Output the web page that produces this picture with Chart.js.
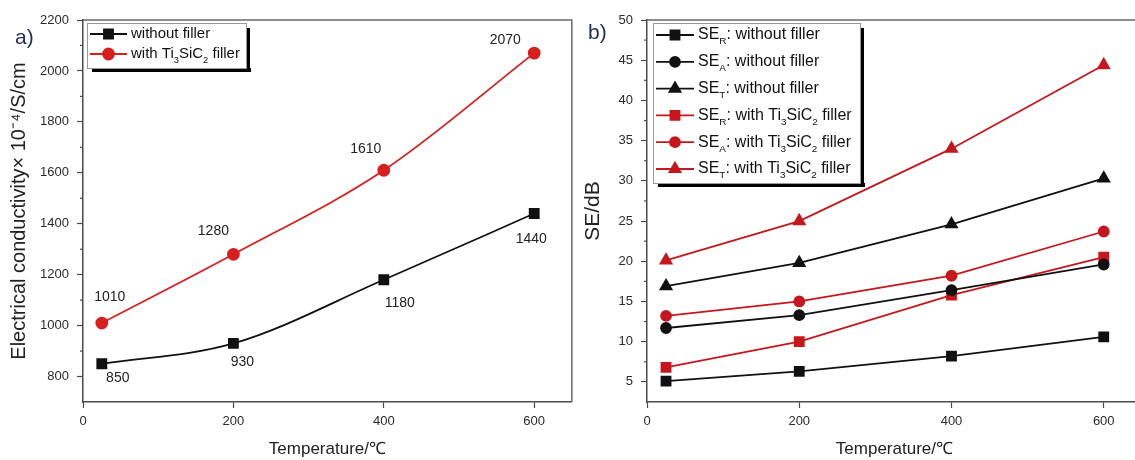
<!DOCTYPE html>
<html>
<head>
<meta charset="utf-8">
<script src="https://cdn.jsdelivr.net/npm/chart.js@4.4.1/dist/chart.umd.min.js"></script>
<style>
    body { margin: 0; background: #fff; width: 1135px; height: 460px; overflow: hidden; position: relative; font-family: "Liberation Sans", Arial, sans-serif; }
    #wrapA { position: absolute; left: 0; top: 0; width: 580px; height: 460px; }
    #wrapB { position: absolute; left: 580px; top: 0; width: 570px; height: 460px; }
    .tag { position: absolute; font-size: 21px; color: #1f2f52; }
</style>
</head>
<body>
<div id="wrapA"><canvas id="chartA"></canvas></div>
<div id="wrapB"><canvas id="chartB"></canvas></div>
<div class="tag" style="left:15px;top:25px">a)</div>
<div class="tag" style="left:588px;top:20px">b)</div>

<script>
// data
var temperature = [25, 200, 400, 600];
var tempTicks = [0, 200, 400, 600];

// a) electrical conductivity, x 10^-4 S/cm
var condWithout = [850, 930, 1180, 1440];
var condWith = [1010, 1280, 1610, 2070];
var condTicks = [800, 1000, 1200, 1400, 1600, 1800, 2000, 2200];
var condMinor = [900, 1100, 1300, 1500, 1700, 1900, 2100];

// b) shielding effectiveness, dB
var seRWithout = [5.1, 6.3, 8.2, 10.6];
var seAWithout = [11.7, 13.3, 16.4, 19.6];
var seTWithout = [16.9, 19.8, 24.6, 30.3];
var seRWith = [6.8, 10.0, 15.8, 20.5];
var seAWith = [13.2, 15.0, 18.2, 23.7];
var seTWith = [20.1, 25.0, 34.0, 44.4];
var seTicks = [5, 10, 15, 20, 25, 30, 35, 40, 45, 50];
var seMinor = [7.5, 12.5, 17.5, 22.5, 27.5, 32.5, 37.5, 42.5, 47.5];

var RED_A = '#d81e1e';
var RED_B = '#c5171d';
var BLACK = '#111';
var AXIS = '#4a4a4a';
var FONT = '"Liberation Sans", Arial, sans-serif';

function pts(ys) {
    return temperature.map(function (t, i) { return { x: t, y: ys[i] }; });
}

function drawRich(ctx, parts, x, y, size) {
    parts.forEach(function (p) {
        var sub = p[1] === 'sub';
        ctx.font = (sub ? size * 0.62 : size) + 'px ' + FONT;
        ctx.fillText(p[0], x, y + (sub ? size * 0.42 : 0));
        x += ctx.measureText(p[0]).width;
    });
}

// frame, minor ticks, value labels and the boxed legend
var decor = {
    id: 'decor',
    afterDraw: function (chart, args, opts) {
        var ctx = chart.ctx;
        var a = chart.chartArea;
        var ys = chart.scales.y;
        ctx.save();

        ctx.strokeStyle = '#6a6a6a';
        ctx.lineWidth = 1.5;
        ctx.beginPath();
        ctx.moveTo(a.left, a.top);
        ctx.lineTo(a.right, a.top);
        ctx.lineTo(a.right, a.bottom);
        ctx.stroke();

        ctx.strokeStyle = AXIS;
        ctx.lineWidth = 1.2;
        opts.minor.forEach(function (v) {
            var py = ys.getPixelForValue(v);
            ctx.beginPath();
            ctx.moveTo(a.left - 3, py);
            ctx.lineTo(a.left, py);
            ctx.stroke();
        });

        if (opts.offsets) {
            ctx.fillStyle = '#222';
            ctx.font = '14px ' + FONT;
            ctx.textAlign = 'center';
            ctx.textBaseline = 'middle';
            chart.data.datasets.forEach(function (ds, i) {
                var meta = chart.getDatasetMeta(i);
                meta.data.forEach(function (el, j) {
                    var off = opts.offsets[i][j];
                    ctx.fillText(String(ds.data[j].y), el.x + off[0], el.y + off[1]);
                });
            });
        }

        var L = opts.legend;
        ctx.fillStyle = '#000';
        ctx.fillRect(L.x + 5, L.y + L.h, L.w, 4);
        ctx.fillRect(L.x + L.w, L.y + 5, 4, L.h - 1);
        ctx.fillStyle = '#fff';
        ctx.fillRect(L.x, L.y, L.w, L.h);
        ctx.strokeStyle = '#999';
        ctx.lineWidth = 1;
        ctx.strokeRect(L.x + 0.5, L.y + 0.5, L.w, L.h);
        ctx.textAlign = 'left';
        ctx.textBaseline = 'middle';
        L.items.forEach(function (parts, i) {
            var ds = chart.data.datasets[i];
            var cy = L.y + L.first + i * L.step;
            ctx.strokeStyle = ds.borderColor;
            ctx.lineWidth = 1.8;
            ctx.beginPath();
            ctx.moveTo(L.x + 3, cy);
            ctx.lineTo(L.x + 3 + L.line, cy);
            ctx.stroke();
            ctx.fillStyle = ds.pointBackgroundColor;
            ctx.strokeStyle = ds.pointBorderColor;
            Chart.helpers.drawPoint(ctx, {
                pointStyle: ds.pointStyle, radius: ds.pointRadius, rotation: 0, borderWidth: 1
            }, L.x + 3 + L.line / 2, cy);
            ctx.fillStyle = '#111';
            drawRich(ctx, parts, L.x + L.line + 7, cy, L.size);
        });
        ctx.restore();
    }
};

function axes(xMax, yMin, yMax, majors, yTitle, yWidth, yTitleSize, yPad) {
    var tickFont = { family: FONT, size: 13 };
    return {
        x: {
            type: 'linear', min: 0, max: xMax,
            afterBuildTicks: function (s) { s.ticks = tempTicks.map(function (v) { return { value: v }; }); },
            afterFit: function (s) { s.height = 58; },
            border: { display: true, color: AXIS, width: 1.5 },
            grid: { drawOnChartArea: false, tickLength: 6, tickColor: AXIS, tickWidth: 1.2 },
            ticks: { color: '#2a2a2a', font: tickFont, padding: 6, maxRotation: 0, callback: function (v) { return String(v); } },
            title: { display: true, text: 'Temperature/\u2103', color: '#222', font: { family: FONT, size: 17 }, padding: { top: 0, bottom: 0 } }
        },
        y: {
            type: 'linear', min: yMin, max: yMax,
            afterBuildTicks: function (s) { s.ticks = majors.map(function (v) { return { value: v }; }); },
            afterFit: function (s) { s.width = yWidth; },
            border: { display: true, color: AXIS, width: 1.5 },
            grid: { drawOnChartArea: false, tickLength: 6, tickColor: AXIS, tickWidth: 1.2 },
            ticks: { color: '#2a2a2a', font: tickFont, padding: 8, callback: function (v) { return String(v); } },
            title: { display: true, text: yTitle, color: '#222', font: { family: FONT, size: yTitleSize }, padding: { top: yPad, bottom: 0 } }
        }
    };
}

function series(label, ys, color, style, radius, mode) {
    return {
        label: label,
        data: pts(ys),
        borderColor: color,
        backgroundColor: color,
        pointBackgroundColor: color,
        pointBorderColor: color,
        pointStyle: style,
        pointRadius: radius,
        pointHoverRadius: radius,
        borderWidth: 1.8,
        cubicInterpolationMode: mode,
        tension: 0
    };
}

new Chart(document.getElementById('chartA'), {
    type: 'line',
    data: {
        datasets: [
            series('without filler', condWithout, BLACK, 'rect', 6.4, 'monotone'),
            series('with Ti3SiC2 filler', condWith, RED_A, 'circle', 5.5, 'monotone')
        ]
    },
    options: {
        responsive: true,
        maintainAspectRatio: false,
        animation: false,
        layout: { padding: { left: 0, right: 8, top: 20, bottom: 0 } },
        scales: axes(650, 700, 2200, condTicks, 'Electrical conductivity\u00d7 10\u207b\u2074/S/cm', 83, 20, 7),
        plugins: {
            legend: { display: false },
            tooltip: { enabled: false },
            decor: {
                minor: condMinor,
                offsets: [
                    [[16, 14], [9, 19], [16, 23], [-3, 26]],
                    [[8, -26], [-20, -23], [-18, -21], [-29, -13]]
                ],
                legend: {
                    x: 87, y: 23, w: 159, h: 45, first: 11, step: 20, line: 37, size: 15,
                    items: [
                        [['without filler', '']],
                        [['with Ti', ''], ['3', 'sub'], ['SiC', ''], ['2', 'sub'], [' filler', '']]
                    ]
                }
            }
        }
    },
    plugins: [decor]
});

new Chart(document.getElementById('chartB'), {
    type: 'line',
    data: {
        datasets: [
            series('SE_R without filler', seRWithout, BLACK, 'rect', 6.4, 'default'),
            series('SE_A without filler', seAWithout, BLACK, 'circle', 5, 'default'),
            series('SE_T without filler', seTWithout, BLACK, 'triangle', 6.4, 'default'),
            series('SE_R with Ti3SiC2 filler', seRWith, RED_B, 'rect', 6.4, 'default'),
            series('SE_A with Ti3SiC2 filler', seAWith, RED_B, 'circle', 5, 'default'),
            series('SE_T with Ti3SiC2 filler', seTWith, RED_B, 'triangle', 6.4, 'default')
        ]
    },
    options: {
        responsive: true,
        maintainAspectRatio: false,
        animation: false,
        layout: { padding: { left: 0, right: 6, top: 20, bottom: 0 } },
        scales: axes(650, 2.5, 50, seTicks, 'SE/dB', 67, 21, 1),
        plugins: {
            legend: { display: false },
            tooltip: { enabled: false },
            decor: {
                minor: seMinor,
                legend: {
                    x: 73, y: 23, w: 207, h: 160, first: 12, step: 26.8, line: 38, size: 16,
                    items: [
                        [['SE', ''], ['R', 'sub'], [': without filler', '']],
                        [['SE', ''], ['A', 'sub'], [': without filler', '']],
                        [['SE', ''], ['T', 'sub'], [': without filler', '']],
                        [['SE', ''], ['R', 'sub'], [': with Ti', ''], ['3', 'sub'], ['SiC', ''], ['2', 'sub'], [' filler', '']],
                        [['SE', ''], ['A', 'sub'], [': with Ti', ''], ['3', 'sub'], ['SiC', ''], ['2', 'sub'], [' filler', '']],
                        [['SE', ''], ['T', 'sub'], [': with Ti', ''], ['3', 'sub'], ['SiC', ''], ['2', 'sub'], [' filler', '']]
                    ]
                }
            }
        }
    },
    plugins: [decor]
});
</script>
</body>
</html>
